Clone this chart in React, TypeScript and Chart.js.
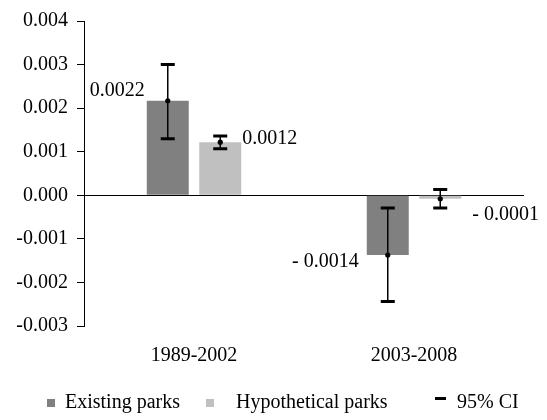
import React, { useEffect, useRef } from "react";
import { Chart, registerables } from "chart.js";

Chart.register(...registerables);

// ---- data ----
const categories = ["1989-2002", "2003-2008"];
const seriesNames = ["Existing parks", "Hypothetical parks"];
const existingValues = [0.00217, -0.00137];
const hypotheticalValues = [0.00122, -0.00008];
const existingCILow = [0.0013, -0.00244];
const existingCIHigh = [0.003, -0.00029];
const hypotheticalCILow = [0.00107, -0.00029];
const hypotheticalCIHigh = [0.00136, 0.00013];
const ciLegendLabel = "95% CI";
const yMin = -0.003;
const yMax = 0.004;
const yStep = 0.001;

// ---- styles ----
const FONT = "'Liberation Serif', 'Times New Roman', serif";
const FONT_SIZE = 20;
const seriesColors = ["#808080", "#c0c0c0"];
// label placement relative to the bar: [dx, dy] per dataset per category
const labelOffsets = [
  [[-2, -10], [-8, 7]],
  [[1, -3], [11, 16]],
];
const labelAlign: CanvasTextAlign[] = ["right", "left"];

const fmtLabel = (v: number) =>
  v < 0 ? "- " + Math.abs(v).toFixed(4) : v.toFixed(4);

export default function App() {
  const ref = useRef<HTMLCanvasElement | null>(null);

  useEffect(() => {
    if (!ref.current) return;
    const ciLow = [existingCILow, hypotheticalCILow];
    const ciHigh = [existingCIHigh, hypotheticalCIHigh];

    const overlay = {
      id: "overlay",
      afterDatasetsDraw(chart: any) {
        const ctx = chart.ctx as CanvasRenderingContext2D;
        const y = chart.scales.y;
        ctx.save();
        chart.data.datasets.forEach((ds: any, di: number) => {
          const meta = chart.getDatasetMeta(di);
          meta.data.forEach((el: any, i: number) => {
            const x = el.x;
            const yl = y.getPixelForValue(ciLow[di][i]);
            const yh = y.getPixelForValue(ciHigh[di][i]);
            const ym = y.getPixelForValue(ds.data[i]);
            ctx.strokeStyle = "#000";
            ctx.lineWidth = 1.5;
            ctx.beginPath();
            ctx.moveTo(x, yl);
            ctx.lineTo(x, yh);
            ctx.stroke();
            ctx.lineWidth = 3;
            ctx.beginPath();
            ctx.moveTo(x - 7, yl);
            ctx.lineTo(x + 7, yl);
            ctx.moveTo(x - 7, yh);
            ctx.lineTo(x + 7, yh);
            ctx.stroke();
            ctx.fillStyle = "#000";
            ctx.beginPath();
            ctx.arc(x, ym, 2.6, 0, Math.PI * 2);
            ctx.fill();

            // data label
            const [dx, dy] = labelOffsets[di][i];
            const edge = di === 0 ? x - el.width / 2 : x + el.width / 2;
            ctx.font = `${FONT_SIZE}px ${FONT}`;
            ctx.textAlign = labelAlign[di];
            ctx.textBaseline = "middle";
            ctx.fillStyle = "#000";
            ctx.fillText(fmtLabel(ds.data[i]), edge + dx, ym + dy);
          });
        });
        ctx.restore();
      },
      afterDraw(chart: any) {
        const ctx = chart.ctx as CanvasRenderingContext2D;
        ctx.save();
        ctx.font = `${FONT_SIZE}px ${FONT}`;
        ctx.textBaseline = "middle";
        ctx.textAlign = "left";
        const ly = 403;
        ctx.fillStyle = seriesColors[0];
        ctx.fillRect(47, 399, 8, 8);
        ctx.fillStyle = "#000";
        ctx.fillText(seriesNames[0], 65, ly);
        ctx.fillStyle = seriesColors[1];
        ctx.fillRect(206, 399, 8, 8);
        ctx.fillStyle = "#000";
        ctx.fillText(seriesNames[1], 236, ly);
        ctx.fillRect(435, 397, 11, 3);
        ctx.fillText(ciLegendLabel, 457, ly);
        ctx.restore();
      },
    };

    const chart = new Chart(ref.current, {
      type: "bar",
      data: {
        labels: categories,
        datasets: [
          {
            label: seriesNames[0],
            data: existingValues,
            backgroundColor: seriesColors[0],
            categoryPercentage: 0.477,
            barPercentage: 0.8,
          },
          {
            label: seriesNames[1],
            data: hypotheticalValues,
            backgroundColor: seriesColors[1],
            categoryPercentage: 0.477,
            barPercentage: 0.8,
          },
        ],
      },
      options: {
        responsive: false,
        animation: false,
        layout: { padding: { left: 0, right: 23, top: 15, bottom: 0 } },
        plugins: {
          legend: { display: false },
          tooltip: { enabled: false },
        },
        scales: {
          x: {
            grid: { display: false, drawTicks: false },
            border: { display: false },
            ticks: {
              color: "#000",
              font: { family: FONT, size: FONT_SIZE },
              padding: 18,
            },
            afterFit: (s: any) => {
              s.height = 94;
            },
          },
          y: {
            min: yMin,
            max: yMax,
            border: { display: true, color: "#000", width: 1 },
            grid: {
              color: (c: any) =>
                c.tick && Math.abs(c.tick.value) < 1e-9 ? "#000" : "rgba(0,0,0,0)",
              tickColor: "#000",
              tickLength: 7,
              drawTicks: true,
            },
            ticks: {
              stepSize: yStep,
              color: "#000",
              padding: 9,
              font: { family: FONT, size: FONT_SIZE },
              callback: (v: any) => Number(v).toFixed(3),
            },
            afterFit: (s: any) => {
              s.width = 84;
            },
          },
        },
      },
      plugins: [overlay],
    });
    return () => chart.destroy();
  }, []);

  return (
    <div style={{ position: "absolute", left: 0, top: 0, width: 547, height: 420 }}>
      <canvas ref={ref} width={547} height={420} />
    </div>
  );
}
